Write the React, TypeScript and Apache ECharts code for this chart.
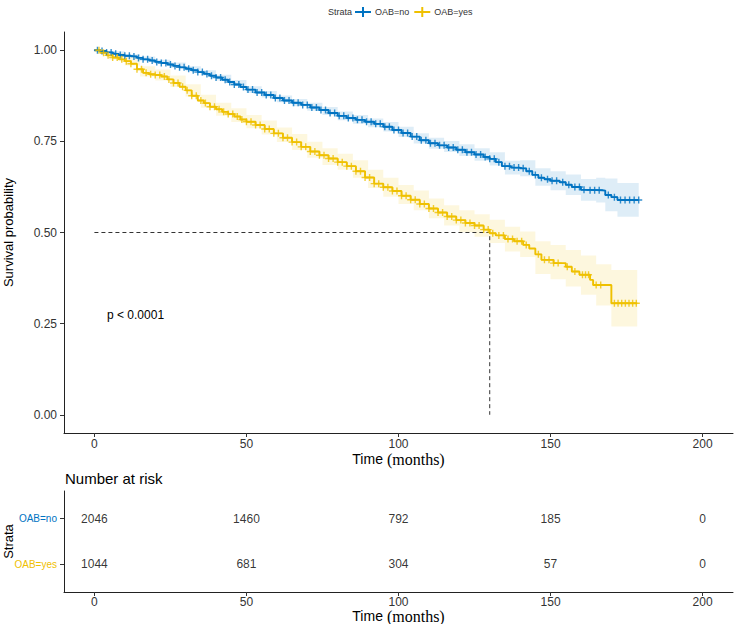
import React, { useEffect, useRef } from "react";
import * as echarts from "echarts";

// Kaplan–Meier estimates, OAB=no
const noTime = [0, 2, 4, 6, 8, 10, 12, 14, 16, 18, 20, 22, 24, 26, 28, 30, 32, 34, 36, 38, 40, 42, 44, 46, 48, 50,
  53, 56, 59, 62, 65, 68, 71, 74, 77, 80, 83, 86, 89, 92, 95, 98, 101, 104, 107, 110, 113, 116, 119, 122, 125, 128,
  130, 132, 134, 137, 140, 142, 144, 146, 148, 150, 153, 155, 157, 160, 163, 167, 168, 170, 172, 179];
const noSurv = [1.0, 0.998, 0.994, 0.99, 0.987, 0.985, 0.983, 0.979, 0.975, 0.972, 0.968, 0.965, 0.961, 0.957, 0.953, 0.949, 0.945, 0.94, 0.935, 0.93, 0.925, 0.919, 0.913, 0.906, 0.899, 0.892,
  0.884, 0.877, 0.869, 0.862, 0.856, 0.85, 0.843, 0.836, 0.828, 0.82, 0.814, 0.809, 0.804, 0.798, 0.79, 0.781, 0.773, 0.763, 0.753, 0.745, 0.739, 0.733, 0.727, 0.72, 0.714, 0.707,
  0.702, 0.693, 0.682, 0.678, 0.676, 0.668, 0.658, 0.65, 0.646, 0.642, 0.638, 0.631, 0.625, 0.617, 0.616, 0.615, 0.603, 0.597, 0.589, 0.589];

// Kaplan–Meier estimates, OAB=yes
const yesTime = [0, 2, 4, 6, 8, 10, 12, 14, 16, 18, 20, 22, 24, 26, 28, 30, 32, 34, 36, 38, 40, 42, 44, 46, 48, 50,
  53, 56, 59, 62, 65, 68, 71, 74, 77, 80, 83, 86, 89, 92, 95, 98, 101, 104, 107, 110, 113, 116, 119, 122, 125, 128,
  130, 132, 135, 138, 141, 143, 145, 147, 151, 155, 157, 159.5, 163, 164, 170, 178.5];
const yesSurv = [1.0, 0.993, 0.986, 0.98, 0.975, 0.97, 0.963, 0.948, 0.938, 0.934, 0.932, 0.928, 0.92, 0.91, 0.9, 0.89, 0.875, 0.862, 0.855, 0.845, 0.838, 0.831, 0.825, 0.818, 0.81, 0.804,
  0.795, 0.784, 0.772, 0.76, 0.748, 0.735, 0.722, 0.712, 0.703, 0.693, 0.682, 0.668, 0.651, 0.634, 0.624, 0.614, 0.601, 0.59, 0.578, 0.566, 0.555, 0.544, 0.534, 0.526, 0.519, 0.508,
  0.498, 0.492, 0.482, 0.476, 0.466, 0.456, 0.44, 0.425, 0.416, 0.406, 0.393, 0.384, 0.37, 0.356, 0.306, 0.306];

// 95% confidence limits
const noBandTime = [0, 5, 10, 15, 20, 25, 30, 35, 40, 45, 50, 55, 60, 65, 70, 75, 80, 85, 90, 95, 100, 105, 110, 115, 120, 125, 130, 135, 140, 145, 150, 155, 160, 165, 168, 172, 179];
const noLower = [1.0, 0.989, 0.981, 0.971, 0.962, 0.952, 0.942, 0.931, 0.917, 0.902, 0.883, 0.87, 0.857, 0.846, 0.834, 0.822, 0.808, 0.798, 0.789, 0.777, 0.762, 0.744, 0.73, 0.721, 0.71, 0.697, 0.684, 0.659, 0.654, 0.628, 0.616, 0.603, 0.587, 0.582, 0.558, 0.543, 0.543];
const noUpper = [1.0, 0.997, 0.989, 0.983, 0.974, 0.966, 0.956, 0.945, 0.933, 0.918, 0.901, 0.888, 0.876, 0.866, 0.856, 0.844, 0.832, 0.822, 0.813, 0.803, 0.79, 0.772, 0.76, 0.751, 0.742, 0.731, 0.72, 0.697, 0.698, 0.676, 0.668, 0.659, 0.647, 0.65, 0.648, 0.636, 0.636];

const yesBandTime = [0, 5, 10, 15, 20, 25, 30, 35, 40, 45, 50, 55, 60, 65, 70, 75, 80, 85, 90, 95, 100, 105, 110, 115, 120, 125, 130, 135, 140, 145, 150, 155, 160, 165, 170, 178.5];
const yesLower = [1.0, 0.974, 0.958, 0.928, 0.917, 0.899, 0.873, 0.842, 0.82, 0.803, 0.786, 0.769, 0.748, 0.726, 0.705, 0.685, 0.672, 0.65, 0.622, 0.598, 0.578, 0.561, 0.539, 0.519, 0.501, 0.488, 0.471, 0.448, 0.433, 0.386, 0.372, 0.352, 0.329, 0.3, 0.242, 0.242];
const yesUpper = [1.0, 0.992, 0.981, 0.956, 0.947, 0.931, 0.907, 0.878, 0.856, 0.841, 0.822, 0.807, 0.788, 0.77, 0.749, 0.731, 0.716, 0.698, 0.672, 0.65, 0.63, 0.615, 0.593, 0.575, 0.561, 0.55, 0.535, 0.516, 0.503, 0.476, 0.466, 0.452, 0.437, 0.413, 0.397, 0.397];

// Censoring times
const noCensor = [1, 2.5, 4, 5.5, 7, 8.5, 10, 11.5, 13, 14.5, 16, 17.5, 19, 20.5, 22, 23.5, 25, 26.5, 28, 29.5, 31, 32.5, 34, 35.5, 37, 38.5, 40, 41.5, 43, 44.5, 46, 47.5, 49, 50.5, 52, 53.5, 55, 56.5, 58, 59.5, 61, 62.5, 64, 65.5, 67, 68.5, 70, 71.5, 73, 74.5, 76, 77.5, 79, 80.5, 82, 83.5, 85, 86.5, 88, 89.5, 91, 92.5, 94, 95.5, 97, 98.5, 100, 101.5, 103, 104.5, 106, 107.5, 109, 110.5, 112, 113.5, 115, 116.5, 118, 119.5, 121, 122.5, 124, 125.5, 127, 128.5, 130, 131.5, 133, 135, 136.5, 138, 139.5, 141, 143, 145, 147, 149, 150.5, 152, 154, 156, 158, 159.5, 161, 163, 164.5, 166, 169, 171, 173, 174.5, 176, 177.5, 179];
const yesCensor = [1.5, 3, 4.5, 6, 7.5, 9, 10.5, 12, 14, 15.5, 17, 18.5, 20, 21.5, 23, 24.5, 26, 27.5, 29, 30.5, 32, 33.5, 35, 36.5, 38, 39.5, 41, 42.5, 44, 45.5, 47, 48.5, 50, 51.5, 53, 54.5, 56, 57.5, 59, 60.5, 62, 63.5, 65, 66.5, 68, 69.5, 71, 72.5, 74, 75.5, 77, 78.5, 80, 81.5, 83, 84.5, 86, 87.5, 89, 90.5, 92, 93.5, 95, 96.5, 98, 99.5, 101, 102.5, 104, 105.5, 107, 108.5, 110, 111.5, 113, 114.5, 116, 117.5, 119, 120.5, 122, 123.5, 125, 126.5, 128, 129.5, 131, 133, 134.5, 136, 137.5, 139, 140.5, 142, 146, 148, 149.5, 151, 152.5, 155.5, 158, 160.5, 161.5, 162.5, 165, 166.5, 171, 172.2, 173.4, 174.6, 175.8, 177, 178.2];

const yesMedian = 130;

// Number at risk
const riskTimes = [0, 50, 100, 150, 200];
const riskNo = [2046, 1460, 792, 185, 0];
const riskYes = [1044, 681, 304, 57, 0];

const timeTicks = [0, 50, 100, 150, 200];
const survTicks = [0, 0.25, 0.5, 0.75, 1];

const BLUE = "#0073C2";
const GOLD = "#EFC000";
const SANS = "Liberation Sans";
const SERIF = "Liberation Serif";
const PLUS = "path://M-1,-5H1V-1H5V1H1V5H-1V1H-5V-1H-1Z";
const LEGEND_ICON = "path://M0,4H7V0H9V4H16V6H9V10H7V6H0Z";

function stepAt(ts: number[], ss: number[], t: number) {
  let v = ss[0];
  for (let i = 0; i < ts.length; i++) if (ts[i] <= t) v = ss[i];
  return v;
}

function curve(ts: number[], ss: number[]) {
  return ts.map((t, i) => [t, ss[i]]);
}

// Step-shaped confidence band drawn as one polygon
function bandSeries(name: string, ts: number[], lo: number[], hi: number[], color: string) {
  return {
    type: "custom", name: name + " band", coordinateSystem: "cartesian2d", xAxisIndex: 0, yAxisIndex: 0,
    data: ts.map((t, i) => [t, lo[i], hi[i]]),
    encode: { x: 0, y: [1, 2] },
    silent: true, z: 1,
    renderItem: (params: any, api: any) => {
      if (params.dataIndex !== 0) return null;
      const n = ts.length;
      const pts: number[][] = [];
      for (let i = 0; i < n; i++) {
        pts.push(api.coord([ts[i], hi[i]]));
        if (i < n - 1) pts.push(api.coord([ts[i + 1], hi[i]]));
      }
      for (let i = n - 1; i >= 0; i--) {
        if (i < n - 1) pts.push(api.coord([ts[i + 1], lo[i]]));
        pts.push(api.coord([ts[i], lo[i]]));
      }
      return { type: "polygon", shape: { points: pts }, style: { fill: color, opacity: 0.13 } };
    },
  };
}

function censorSeries(name: string, cs: number[], ts: number[], ss: number[], color: string) {
  return {
    type: "scatter", name: name + " censor", symbol: PLUS, symbolSize: 7,
    data: cs.map((t) => [t, stepAt(ts, ss, t)]),
    itemStyle: { color }, silent: true, z: 4,
  };
}

function xAxis(gridIndex: number, labelMargin: number, nameGap: number) {
  return {
    type: "value", gridIndex, min: -10, max: 210,
    axisLine: { show: true, onZero: false, lineStyle: { color: "#222", width: 1 } },
    axisTick: { show: true, length: 4, customValues: timeTicks, lineStyle: { color: "#333" } },
    axisLabel: { customValues: timeTicks, margin: labelMargin, fontSize: 12, color: "#333", fontFamily: SANS },
    splitLine: { show: false },
    name: "{s|Time}{t| (months)}", nameLocation: "middle", nameGap, nameMoveOverlap: false,
    nameTextStyle: {
      rich: {
        s: { fontFamily: SANS, fontSize: 14, color: "#000" },
        t: { fontFamily: SERIF, fontSize: 16, color: "#000" },
      },
    },
  };
}

export default function App() {
  const ref = useRef<HTMLDivElement>(null);

  useEffect(() => {
    if (!ref.current) return;
    const chart = echarts.init(ref.current, null, { renderer: "svg" });
    const riskLabel = { show: true, position: "inside", formatter: (p: any) => String(p.value[2]), fontSize: 12, color: "#000", fontFamily: SANS };
    const option: any = {
      animation: false,
      textStyle: { fontFamily: SANS },
      title: [
        { text: "Strata", left: 323, top: 2, textStyle: { fontSize: 9, fontWeight: "normal", color: "#333", fontFamily: SANS } },
        { text: "Number at risk", left: 60, top: 466, textStyle: { fontSize: 15, fontWeight: "normal", color: "#000", fontFamily: SANS } },
      ],
      legend: {
        left: 355, top: 7, padding: 0, itemWidth: 16, itemHeight: 10, itemGap: 5,
        textStyle: { fontSize: 9, color: "#333", fontFamily: SANS, padding: [0, 0, 0, -1] },
        data: [
          { name: "OAB=no", icon: LEGEND_ICON },
          { name: "OAB=yes", icon: LEGEND_ICON },
        ],
      },
      grid: [
        { left: 64, right: 5, top: 32, height: 401, outerBoundsMode: "none" },
        { left: 64, right: 5, top: 491, height: 101, outerBoundsMode: "none" },
      ],
      xAxis: [xAxis(0, 5, 18), xAxis(1, 4, 16)],
      yAxis: [
        {
          type: "value", gridIndex: 0, min: -0.05, max: 1.05,
          axisLine: { show: true, onZero: false, lineStyle: { color: "#222", width: 1 } },
          axisTick: { show: true, length: 4, customValues: survTicks, lineStyle: { color: "#333" } },
          axisLabel: { customValues: survTicks, margin: 7, fontSize: 12, color: "#333", formatter: (v: number) => v.toFixed(2) },
          splitLine: { show: false },
          name: "Survival probability", nameLocation: "middle", nameGap: 49, nameRotate: 90, nameMoveOverlap: false,
          nameTextStyle: { fontSize: 13, color: "#000", fontFamily: SANS },
        },
        {
          type: "value", gridIndex: 1, min: 0.4, max: 2.6,
          axisLine: { show: true, onZero: false, lineStyle: { color: "#222", width: 1 } },
          axisTick: { show: true, length: 4, customValues: [1, 2], lineStyle: { color: "#333" } },
          axisLabel: {
            customValues: [1, 2], margin: 7,
            formatter: (v: number) => (v === 2 ? "{no|OAB=no}" : "{yes|OAB=yes}"),
            rich: {
              no: { color: BLUE, fontSize: 10, fontFamily: SANS },
              yes: { color: GOLD, fontSize: 10, fontFamily: SANS },
            },
          },
          splitLine: { show: false },
          name: "Strata", nameLocation: "middle", nameGap: 49, nameRotate: 90, nameMoveOverlap: false,
          nameTextStyle: { fontSize: 13, color: "#000", fontFamily: SANS },
        },
      ],
      series: [
        bandSeries("OAB=no", noBandTime, noLower, noUpper, BLUE),
        bandSeries("OAB=yes", yesBandTime, yesLower, yesUpper, GOLD),
        {
          type: "line", name: "OAB=no", step: "end", data: curve(noTime, noSurv), showSymbol: false,
          color: BLUE, lineStyle: { color: BLUE, width: 1.9 }, z: 3,
        },
        {
          type: "line", name: "OAB=yes", step: "end", data: curve(yesTime, yesSurv), showSymbol: false,
          color: GOLD, lineStyle: { color: GOLD, width: 1.9 }, z: 3,
        },
        censorSeries("OAB=no", noCensor, noTime, noSurv, BLUE),
        censorSeries("OAB=yes", yesCensor, yesTime, yesSurv, GOLD),
        {
          type: "line", name: "median", data: [[0, 0.5], [yesMedian, 0.5], [yesMedian, 0]], showSymbol: false,
          lineStyle: { color: "#333", width: 1, type: [4, 3] }, silent: true, z: 2,
        },
        {
          type: "scatter", name: "risk no", xAxisIndex: 1, yAxisIndex: 1, symbolSize: 1,
          itemStyle: { color: "rgba(0,0,0,0)" },
          data: riskTimes.map((t, i) => [t, 2, riskNo[i]]),
          label: riskLabel,
        },
        {
          type: "scatter", name: "risk yes", xAxisIndex: 1, yAxisIndex: 1, symbolSize: 1,
          itemStyle: { color: "rgba(0,0,0,0)" },
          data: riskTimes.map((t, i) => [t, 1, riskYes[i]]),
          label: riskLabel,
        },
      ],
      graphic: [
        { type: "text", left: 107, top: 309, style: { text: "p < 0.0001", fontSize: 12, fill: "#000", fontFamily: SANS } },
      ],
    };
    chart.setOption(option);
    return () => chart.dispose();
  }, []);

  return <div ref={ref} style={{ width: 738, height: 624, position: "absolute", left: 0, top: 0 }} />;
}
